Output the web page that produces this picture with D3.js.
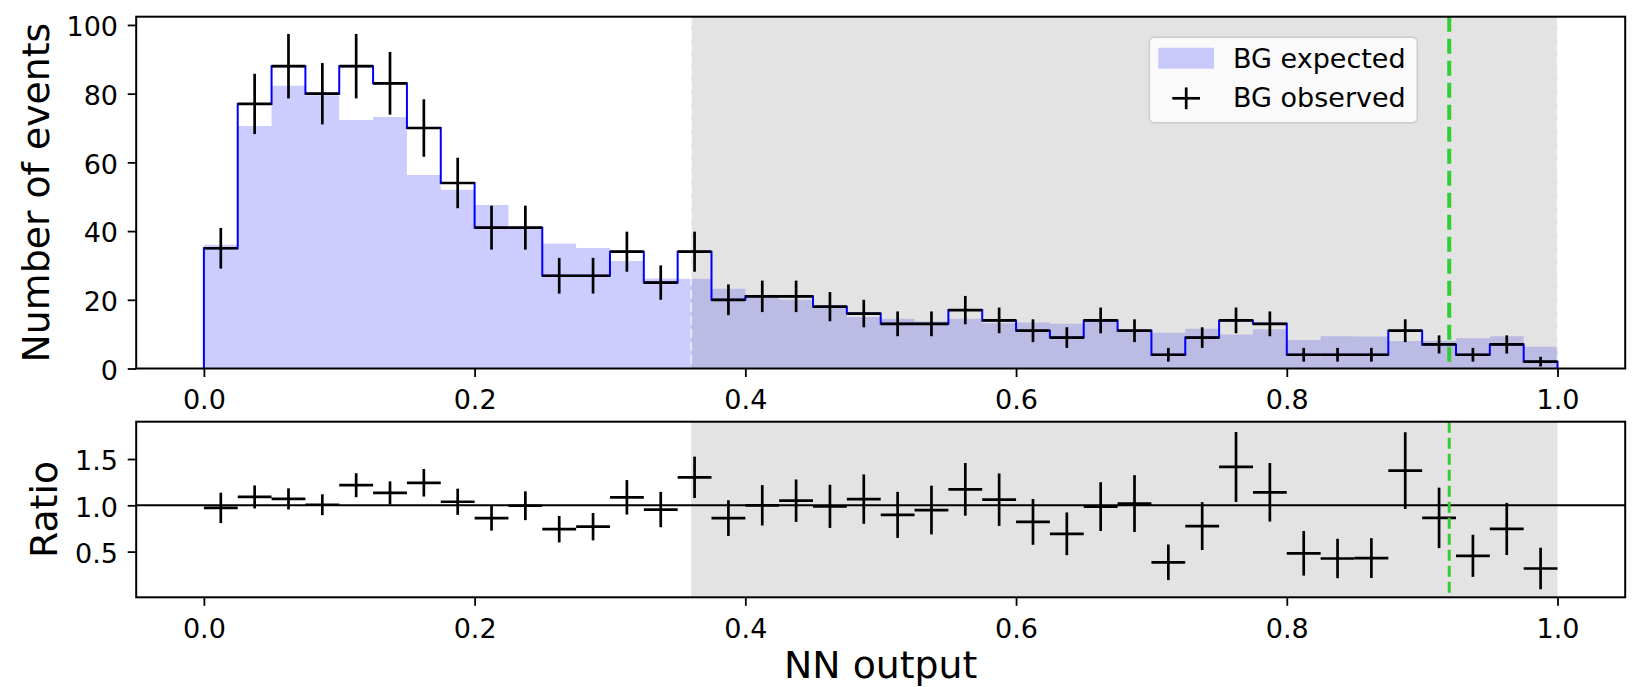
<!DOCTYPE html>
<html>
<head>
<meta charset="utf-8">
<script src="https://cdn.jsdelivr.net/npm/d3@7"></script>
<style>
  html, body { margin: 0; padding: 0; background: #ffffff; }
  svg { display: block; font-family: "DejaVu Sans", sans-serif; }
</style>
</head>
<body>
<svg id="chart" width="1640" height="687"></svg>
<script>
// Histogram binning of the NN output
const binLow = 0.0;
const binHigh = 1.0;
const binCount = 40;

// Observed background counts per bin
const observed = [35, 77, 88, 80, 88, 83, 70, 54, 41, 41,
                  27, 27, 34, 25, 34, 20, 21, 21, 18, 16,
                  13, 13, 17, 14, 11, 9, 14, 11, 4, 9,
                  14, 13, 4, 4, 4, 11, 7, 4, 7, 2];

// Expected background counts per bin
const expected = [36.0, 70.6, 82.3, 79.5, 72.3, 73.2, 56.3, 52.0, 47.6, 41.2,
                  36.4, 35.1, 31.3, 26.2, 26.1, 23.2, 21.0, 20.0, 18.2, 15.0,
                  14.5, 13.7, 14.5, 13.2, 13.4, 13.0, 14.2, 10.8, 10.4, 11.6,
                  9.9, 11.4, 8.3, 9.4, 9.3, 8.0, 8.1, 8.8, 9.4, 6.3];

// Axis ticks
const xTicks = [0.0, 0.2, 0.4, 0.6, 0.8, 1.0];
const countTicks = [0, 20, 40, 60, 80, 100];
const ratioTicks = [0.5, 1.0, 1.5];

// Shaded signal region and the cut position
const signalRegion = [0.36, 1.0];
const cutValue = 0.92;

// Legend entries
const legendLabels = ["BG expected", "BG observed"];

// ---------------------------------------------------------------------
const binWidth = (binHigh - binLow) / binCount;
const bins = observed.map((o, i) => {
  const lo = binLow + i * binWidth;
  const e = expected[i];
  return {
    lo, hi: lo + binWidth, mid: lo + binWidth / 2,
    obs: o, exp: e, err: Math.sqrt(o),
    ratio: o / e, ratioErr: Math.sqrt(o) / e
  };
});

const svg = d3.select("#chart");
const tickFont = 27;
const labelFont = 37.8;
const crossWidth = 2.7;

const x = d3.scaleLinear().domain([-0.05, 1.05]).range([136.2, 1625.2]);
const yTop = d3.scaleLinear().domain([0, 102.4]).range([368.5, 16.7]);
const yRat = d3.scaleLinear().domain([0.0065, 1.903]).range([597.3, 421.7]);

const fmt1 = d3.format(".1f");

function drawAxes(g, yScale, yTicksArr, yFmt) {
  const bottom = yScale.range()[0];
  const left = x.range()[0];
  const xa = g.append("g")
    .attr("transform", `translate(0,${bottom})`)
    .call(d3.axisBottom(x).tickValues(xTicks).tickFormat(fmt1)
      .tickSize(8.5).tickPadding(13.3));
  const ya = g.append("g")
    .attr("transform", `translate(${left},0)`)
    .call(d3.axisLeft(yScale).tickValues(yTicksArr).tickFormat(yFmt)
      .tickSize(8.5).tickPadding(9.7));
  [xa, ya].forEach(a => {
    a.select(".domain").remove();
    a.selectAll(".tick line").attr("stroke", "#000").attr("stroke-width", 1.8);
    a.selectAll(".tick text").attr("fill", "#000")
      .attr("font-size", tickFont).attr("font-family", "DejaVu Sans, sans-serif");
  });
  ya.selectAll(".tick text").attr("dy", "0.40em");
}

function frame(g, yScale) {
  const [x0, x1] = x.range();
  const [yb, yt] = yScale.range();
  g.append("rect")
    .attr("x", x0).attr("y", yt)
    .attr("width", x1 - x0).attr("height", yb - yt)
    .attr("fill", "none").attr("stroke", "#000").attr("stroke-width", 2);
}

function span(g, yScale, dashedEdges) {
  const [yb, yt] = yScale.range();
  g.append("rect")
    .attr("x", x(signalRegion[0])).attr("y", yt)
    .attr("width", x(signalRegion[1]) - x(signalRegion[0]))
    .attr("height", yb - yt)
    .attr("fill", "#808080").attr("fill-opacity", 0.22);
  if (dashedEdges) {
    g.selectAll("line.spanEdge").data(signalRegion).join("line")
      .attr("class", "spanEdge")
      .attr("x1", d => x(d)).attr("x2", d => x(d))
      .attr("y1", yt).attr("y2", yb)
      .attr("stroke", "#ffffff").attr("stroke-opacity", 0.6)
      .attr("stroke-width", 2).attr("stroke-dasharray", "9,4");
  }
}

function cutLine(g, yScale, width, dash) {
  const [yb, yt] = yScale.range();
  g.append("line")
    .attr("x1", x(cutValue)).attr("x2", x(cutValue))
    .attr("y1", yt).attr("y2", yb)
    .attr("stroke", "#32cd32").attr("stroke-width", width)
    .attr("stroke-dasharray", dash);
}

function crosses(g, yScale, valueKey, errKey, width) {
  const c = g.append("g").attr("stroke", "#000").attr("stroke-width", width);
  c.selectAll("line.h").data(bins).join("line").attr("class", "h")
    .attr("x1", d => x(d.lo)).attr("x2", d => x(d.hi))
    .attr("y1", d => yScale(d[valueKey])).attr("y2", d => yScale(d[valueKey]));
  c.selectAll("line.v").data(bins).join("line").attr("class", "v")
    .attr("x1", d => x(d.mid)).attr("x2", d => x(d.mid))
    .attr("y1", d => yScale(d[valueKey] - d[errKey]))
    .attr("y2", d => yScale(d[valueKey] + d[errKey]));
}

// ---------------- Upper panel: event counts ----------------
const upper = svg.append("g");

// expected background, filled histogram
const expArea = d3.area()
  .x(d => x(d[0])).y0(yTop(0)).y1(d => yTop(d[1]))
  .curve(d3.curveStepAfter);
const expPts = bins.map(b => [b.lo, b.exp]).concat([[binHigh, bins[bins.length - 1].exp]]);
upper.append("path").attr("d", expArea(expPts))
  .attr("fill", "#0000ff").attr("fill-opacity", 0.2);

span(upper, yTop, true);

// observed background, outlined step histogram
const obsPts = [[binLow, 0]]
  .concat(bins.flatMap(b => [[b.lo, b.obs], [b.hi, b.obs]]))
  .concat([[binHigh, 0]]);
upper.append("path")
  .attr("d", d3.line().x(d => x(d[0])).y(d => yTop(d[1]))(obsPts))
  .attr("fill", "none").attr("stroke", "#0000ff").attr("stroke-width", 2);

crosses(upper, yTop, "obs", "err", crossWidth);
cutLine(upper, yTop, 4, "15,7");

drawAxes(upper, yTop, countTicks, d3.format("d"));
frame(upper, yTop);

// legend
const lg = upper.append("g");
lg.append("rect")
  .attr("x", 1149.3).attr("y", 37.3).attr("width", 268).attr("height", 85.4)
  .attr("rx", 5).attr("ry", 5)
  .attr("fill", "#ffffff").attr("fill-opacity", 0.8)
  .attr("stroke", "#cccccc").attr("stroke-width", 1.5);
lg.append("rect")
  .attr("x", 1158.3).attr("y", 47.7).attr("width", 55.7).attr("height", 21)
  .attr("fill", "#0000ff").attr("fill-opacity", 0.2);
lg.append("line").attr("x1", 1172.3).attr("x2", 1200).attr("y1", 98.3).attr("y2", 98.3)
  .attr("stroke", "#000").attr("stroke-width", crossWidth);
lg.append("line").attr("x1", 1186.2).attr("x2", 1186.2).attr("y1", 87.4).attr("y2", 109.2)
  .attr("stroke", "#000").attr("stroke-width", crossWidth);
lg.selectAll("text").data(legendLabels).join("text")
  .attr("x", 1233).attr("y", (d, i) => 68.3 + i * 38.4)
  .attr("font-size", tickFont).attr("fill", "#000")
  .text(d => d);

// y label
upper.append("text")
  .attr("transform", `translate(48.5,${(yTop.range()[0] + yTop.range()[1]) / 2}) rotate(-90)`)
  .attr("text-anchor", "middle").attr("font-size", labelFont).attr("fill", "#000")
  .text("Number of events");

// ---------------- Lower panel: observed / expected ----------------
const lower = svg.append("g");
span(lower, yRat, false);

lower.append("line")
  .attr("x1", x.range()[0]).attr("x2", x.range()[1])
  .attr("y1", yRat(1)).attr("y2", yRat(1))
  .attr("stroke", "#000").attr("stroke-width", 2);

crosses(lower, yRat, "ratio", "ratioErr", crossWidth);
cutLine(lower, yRat, 3, "11,5");

drawAxes(lower, yRat, ratioTicks, fmt1);
frame(lower, yRat);

lower.append("text")
  .attr("transform", `translate(56.5,${(yRat.range()[0] + yRat.range()[1]) / 2}) rotate(-90)`)
  .attr("text-anchor", "middle").attr("font-size", labelFont).attr("fill", "#000")
  .text("Ratio");

lower.append("text")
  .attr("x", (x.range()[0] + x.range()[1]) / 2).attr("y", 677.5)
  .attr("text-anchor", "middle").attr("font-size", labelFont).attr("fill", "#000")
  .text("NN output");
</script>
</body>
</html>
